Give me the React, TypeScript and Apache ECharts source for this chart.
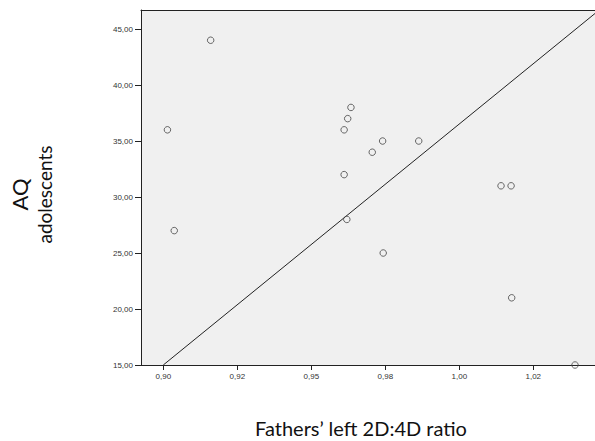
import React, { useEffect, useRef } from "react";
import * as echarts from "echarts";

// Fathers' left 2D:4D ratio (x) vs AQ adolescents (y)
const ratioValues = [
  0.9014, 0.9037, 0.916, 0.9611, 0.9611, 0.962, 0.9623, 0.9634, 0.9706,
  0.9741, 0.9743, 0.9863, 1.0141, 1.0175, 1.0177, 1.0391,
];
const aqValues = [36, 27, 44, 36, 32, 28, 37, 38, 34, 35, 25, 35, 31, 31, 21, 15];

// Fit line end points
const fitX = [0.9, 1.0459];
const fitY = [15, 46.4];

const xTicks = [0.9, 0.925, 0.95, 0.975, 1.0, 1.025];
const xTickLabels = ["0,90", "0,92", "0,95", "0,98", "1,00", "1,02"];
const yTicks = [15, 20, 25, 30, 35, 40, 45];
const yTickLabels = ["15,00", "20,00", "25,00", "30,00", "35,00", "40,00", "45,00"];

const X_MIN = 0.89247;
const X_MAX = 1.04585;
const Y_MIN = 15;
const Y_MAX = 46.7;

const TITLE_FONT = "Lato, 'Open Sans', sans-serif";

export default function App() {
  const ref = useRef<HTMLDivElement>(null);
  useEffect(() => {
    if (!ref.current) return;
    const chart = echarts.init(ref.current, null, { renderer: "svg" });
    const points = ratioValues.map((x, i) => [x, aqValues[i]]);
    const fit = fitX.map((x, i) => [x, fitY[i]]);
    const tickFont = { fontFamily: "Liberation Sans, Arial, sans-serif", fontSize: 8, color: "#333" };
    chart.setOption({
      animation: false,
      backgroundColor: "#ffffff",
      grid: {
        left: 141,
        top: 10,
        right: 0,
        bottom: 76,
        show: true,
        backgroundColor: "#f0f0f0",
        borderWidth: 0,
      },
      xAxis: [
        {
          type: "value",
          min: X_MIN,
          max: X_MAX,
          position: "bottom",
          axisLine: { show: true, onZero: false, lineStyle: { color: "#222", width: 1 } },
          axisTick: {
            show: true,
            length: 5,
            customValues: xTicks,
            lineStyle: { color: "#222", width: 1 },
          },
          axisLabel: {
            show: true,
            margin: 7,
            customValues: xTicks,
            formatter: (v: number) => {
              const i = xTicks.findIndex((t) => Math.abs(t - v) < 1e-6);
              return i >= 0 ? xTickLabels[i] : "";
            },
            ...tickFont,
          },
          splitLine: { show: false },
        },
        {
          type: "value",
          min: X_MIN,
          max: X_MAX,
          position: "top",
          axisLine: { show: true, onZero: false, lineStyle: { color: "#222", width: 1 } },
          axisTick: { show: false },
          axisLabel: { show: false },
          splitLine: { show: false },
        },
      ],
      yAxis: {
        type: "value",
        min: Y_MIN,
        max: Y_MAX,
        name: "{a|AQ}\n{b|adolescents}",
        nameLocation: "middle",
        nameRotate: 90,
        nameGap: 86,
        nameTextStyle: {
          color: "#111",
          fontFamily: TITLE_FONT,
          align: "center",
          padding: [0, 14, 0, 0],
          rich: {
            a: { fontSize: 22, lineHeight: 27, fontFamily: TITLE_FONT, color: "#111" },
            b: { fontSize: 19, lineHeight: 22, fontFamily: TITLE_FONT, color: "#111" },
          },
        },
        axisLine: { show: true, onZero: false, lineStyle: { color: "#222", width: 1 } },
        axisTick: {
          show: true,
          length: 6,
          customValues: yTicks,
          lineStyle: { color: "#222", width: 1 },
        },
        axisLabel: {
          show: true,
          margin: 8,
          customValues: yTicks,
          formatter: (v: number) => {
            const i = yTicks.findIndex((t) => Math.abs(t - v) < 1e-6);
            return i >= 0 ? yTickLabels[i] : "";
          },
          ...tickFont,
        },
        splitLine: { show: false },
      },
      graphic: [
        {
          type: "text",
          x: 361,
          y: 428,
          style: {
            text: "Fathers\u2019 left 2D:4D ratio",
            fontFamily: TITLE_FONT,
            fontSize: 20,
            fill: "#111",
            align: "center",
            verticalAlign: "middle",
          },
        },
      ],
      series: [
        {
          type: "line",
          data: fit,
          symbol: "none",
          lineStyle: { color: "#222", width: 1 },
          z: 3,
        },
        {
          type: "scatter",
          data: points,
          symbol: "circle",
          symbolSize: 6.5,
          itemStyle: { color: "transparent", borderColor: "#444", borderWidth: 1 },
          z: 4,
        },
      ],
    });
    return () => chart.dispose();
  }, []);
  return (
    <div
      ref={ref}
      style={{ position: "fixed", left: 0, top: 0, width: 595, height: 441 }}
    />
  );
}
